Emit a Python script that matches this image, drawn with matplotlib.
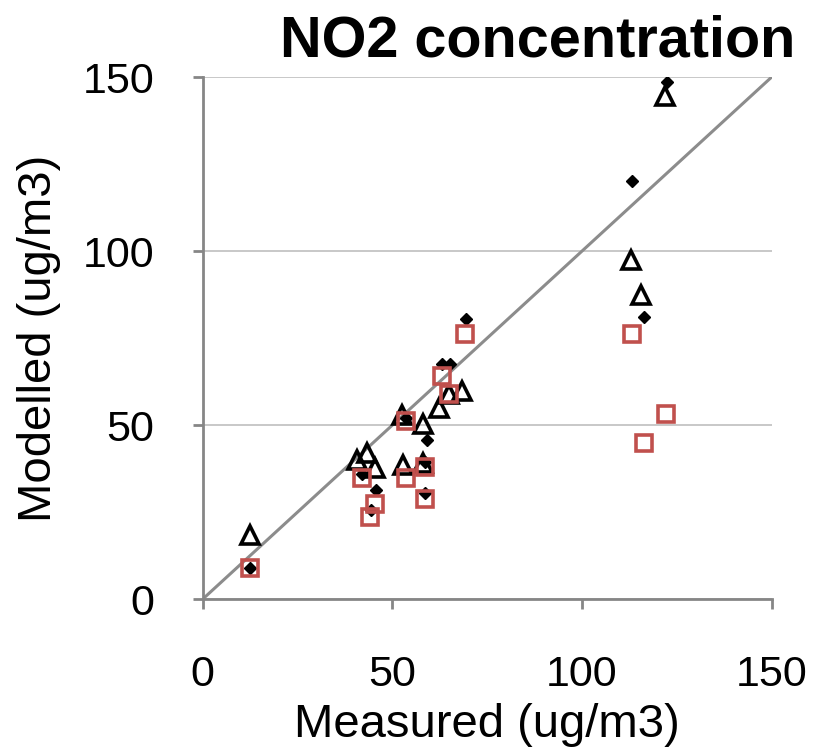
import matplotlib.pyplot as plt

# Data (ug/m3)
diamond_x = [12.5, 42.0, 45.8, 44.5, 53.7, 59.2, 58.5, 58.7, 63.0, 65.2, 69.3, 113.1, 116.3, 122.5]
diamond_y = [9.0, 36.0, 31.5, 25.5, 52.0, 45.8, 39.5, 30.5, 67.6, 67.6, 80.5, 120.0, 81.2, 148.6]

triangle_x = [12.4, 40.7, 43.3, 45.5, 52.8, 52.6, 58.1, 58.0, 62.3, 64.9, 68.4, 112.8, 115.6, 121.8]
triangle_y = [18.4, 39.9, 41.9, 37.6, 38.4, 52.8, 50.2, 39.0, 55.0, 58.8, 59.9, 97.4, 87.4, 144.5]

square_x = [12.4, 42.0, 45.5, 44.0, 53.7, 53.7, 58.7, 58.7, 63.0, 64.9, 69.1, 113.1, 116.4, 122.2]
square_y = [8.9, 34.7, 27.2, 23.6, 51.3, 34.7, 37.9, 28.7, 64.0, 58.8, 76.2, 76.2, 45.0, 53.3]

ticks = [0, 50, 100, 150]

plt.rcParams['font.family'] = 'Liberation Sans'

fig = plt.figure(figsize=(8.14, 7.48), dpi=100)
ax = fig.add_axes([0.249, 0.199, 0.699, 0.698])

# 1:1 line
ax.plot([0, 150], [0, 150], color='#8c8c8c', linewidth=2.2, zorder=1)

ax.plot(diamond_x, diamond_y, linestyle='none', marker='D', markersize=6.5,
        color='black', zorder=3)
ax.plot(triangle_x, triangle_y, linestyle='none', marker='^', markersize=12.5,
        markerfacecolor='none', markeredgecolor='black', markeredgewidth=2.6, zorder=4)
ax.plot(square_x, square_y, linestyle='none', marker='s', markersize=11.5,
        markerfacecolor='none', markeredgecolor='#c0504d', markeredgewidth=2.6, zorder=5)

ax.set_xlim(0, 150)
ax.set_ylim(0, 150)
ax.set_xticks(ticks)
ax.set_yticks(ticks)
ax.grid(axis='y', color='#bfbfbf', linewidth=1.2)
ax.set_axisbelow(True)

for side in ['top', 'right']:
    ax.spines[side].set_visible(False)
for side in ['left', 'bottom']:
    ax.spines[side].set_color('#868686')
    ax.spines[side].set_linewidth(2)
ax.tick_params(axis='both', direction='out', length=7, width=2, color='#868686',
               labelsize=31)
ax.tick_params(axis='x', pad=33)
ax.tick_params(axis='y', pad=28)

ax.set_xlabel('Measured (ug/m3)', fontsize=34, labelpad=6)
ax.set_ylabel('Modelled (ug/m3)', fontsize=34, labelpad=15)
fig.text(0.661, 0.945, 'NO2 concentration', fontsize=41.5, fontweight='bold',
         ha='center', va='center')

fig.savefig('out.png', dpi=100)
